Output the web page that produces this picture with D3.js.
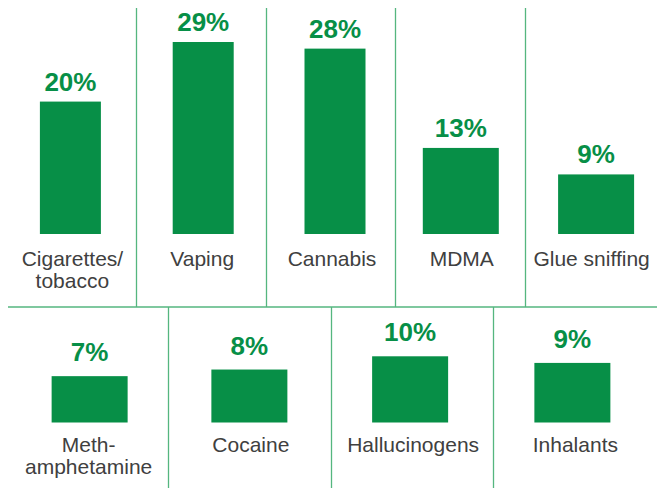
<!DOCTYPE html>
<html>
<head>
<meta charset="utf-8">
<script src="https://cdn.jsdelivr.net/npm/d3@7/dist/d3.min.js"></script>
<style>
  html, body { margin: 0; padding: 0; background: #fff; }
  svg { display: block; }
</style>
</head>
<body>
<div id="chart"></div>
<script>
// ---- data ----
const topCategories = ["Cigarettes/\ntobacco", "Vaping", "Cannabis", "MDMA", "Glue sniffing"];
const topValues = [20, 29, 28, 13, 9];
const bottomCategories = ["Meth-\namphetamine", "Cocaine", "Hallucinogens", "Inhalants"];
const bottomValues = [7, 8, 10, 9];
const valueFormat = v => v + "%";

// ---- layout ----
const W = 664, H = 488;
const green = "#078f47";
const lineColor = "#55b67f";
const textColor = "#404040";
const left = 6, right = 655;
const dividerY = 307;

const svg = d3.select("#chart").append("svg")
  .attr("width", W).attr("height", H);

// shared value scale (px per percentage point)
const y = d3.scaleLinear().domain([0, 29]).range([0, 192]);

function drawRow(cats, vals, opts) {
  const x = d3.scaleBand().domain(cats).range([left, right]);
  const g = svg.append("g");
  cats.slice(1).forEach(c => {
    g.append("line")
      .attr("x1", Math.round(x(c)) + 0.5).attr("x2", Math.round(x(c)) + 0.5)
      .attr("y1", opts.lineTop).attr("y2", opts.lineBottom)
      .attr("stroke", lineColor).attr("stroke-width", 1.3);
  });
  const data = cats.map((c, i) => ({ c, v: vals[i], i }));
  const mid = d => x(d.c) + x.bandwidth() / 2;
  const cx = d => mid(d) + (opts.shift ? opts.shift[d.i] : 0);
  const bw = d => opts.barWidth[d.i];
  g.selectAll("rect.bar").data(data).enter().append("rect")
    .attr("class", "bar")
    .attr("x", d => cx(d) - bw(d) / 2)
    .attr("width", bw)
    .attr("y", d => opts.base - y(d.v))
    .attr("height", d => y(d.v))
    .attr("fill", green);
  g.selectAll("text.val").data(data).enter().append("text")
    .attr("class", "val")
    .attr("x", cx)
    .attr("y", d => opts.base - y(d.v) - opts.valGap)
    .attr("text-anchor", "middle")
    .attr("font-family", "'Liberation Sans', Arial, sans-serif")
    .attr("font-weight", "bold")
    .attr("font-size", 26)
    .attr("fill", green)
    .text(d => valueFormat(d.v));
  const lab = g.selectAll("text.lab").data(data).enter().append("text")
    .attr("class", "lab")
    .attr("y", opts.labelY)
    .attr("text-anchor", "middle")
    .attr("font-family", "'Liberation Sans', Arial, sans-serif")
    .attr("font-size", 21)
    .attr("fill", textColor);
  lab.each(function(d) {
    const lines = d.c.split("\n");
    const t = d3.select(this);
    lines.forEach((ln, k) => {
      t.append("tspan")
        .attr("x", mid(d) + 1.5)
        .attr("dy", k === 0 ? 0 : 22)
        .text(ln);
    });
  });
}

drawRow(topCategories, topValues, {
  lineTop: 8, lineBottom: dividerY, base: 234, valGap: 11, labelY: 266,
  barWidth: [61, 61, 61, 76, 76], shift: [-0.5, 2.5, 4.5, 0.5, 6]
});
drawRow(bottomCategories, bottomValues, {
  lineTop: dividerY, lineBottom: H, base: 422.5, valGap: 15, labelY: 452,
  barWidth: [76, 76, 76, 76], shift: [2.5, 0, -1.5, -1.5]
});

svg.append("line")
  .attr("x1", 8).attr("x2", 657)
  .attr("y1", dividerY).attr("y2", dividerY)
  .attr("stroke", lineColor).attr("stroke-width", 1.3);
</script>
</body>
</html>
